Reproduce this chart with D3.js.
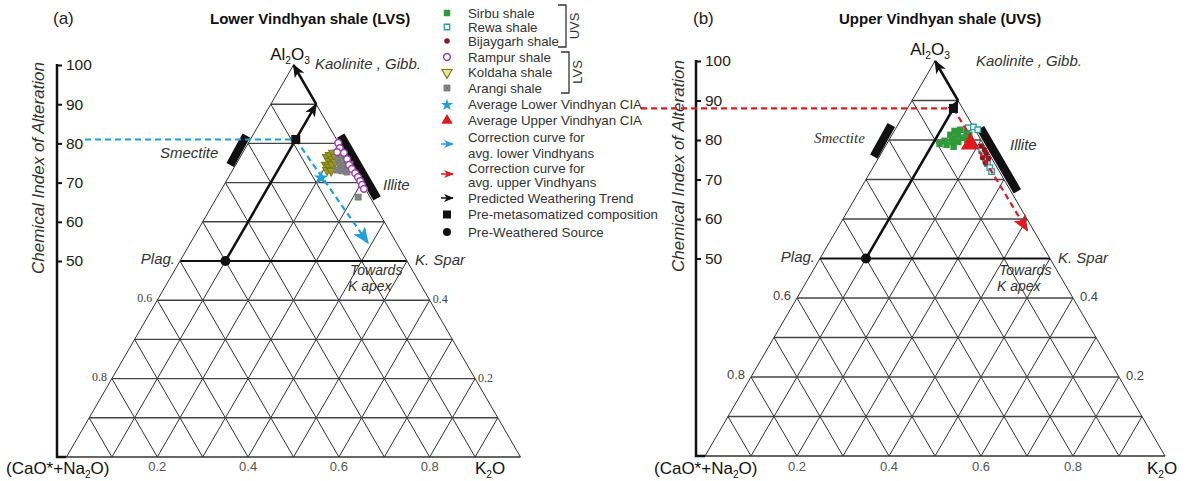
<!DOCTYPE html>
<html>
<head>
<meta charset="utf-8">
<script src="https://cdn.jsdelivr.net/npm/d3@7"></script>
<style>
  body { margin: 0; background: #fff; }
  svg { font-family: "Liberation Sans", Arial, sans-serif; }
</style>
</head>
<body>
<div id="chart"></div>
<script>
// all compositions are molar % given as [Al2O3, K2O]; (CaO*+Na2O) is the rest

// lower vindhyan shales (panel a)
const rampur = [[80.1, 19.8], [78.8, 20.8], [77.6, 22.3], [77.8, 20.7], [76.0, 23.8], [74.5, 25.0],
  [73.5, 26.1], [72.4, 27.4], [71.4, 28.5], [70.4, 29.5], [69.4, 30.4], [68.4, 31.3]];
const koldaha = [[76.5, 19.1], [77.0, 19.5], [77.6, 19.9], [75.5, 20.1], [76.0, 20.5], [76.5, 20.9],
  [74.5, 19.9], [74.0, 20.8], [74.7, 21.1], [75.3, 21.5], [73.2, 20.8], [73.0, 21.8]];
const arangi = [[75.8, 21.9], [76.3, 22.5], [75.5, 23.8], [74.5, 23.0], [74.2, 24.0], [73.7, 25.2],
  [73.2, 23.0], [73.0, 24.2], [72.7, 25.4], [74.7, 25.1], [66.3, 31.1]];
const avgLower = [71.2, 20.5];
const lowerCorrEnd = [54.6, 39.1];
const lowerCIA = 81;

// upper vindhyan shales (panel b)
const sirbu = [[82.3, 13.1], [82.6, 14.2], [82.1, 15.8], [81.3, 12.7], [81.1, 14.4], [80.6, 15.9],
  [79.8, 12.2], [79.0, 11.5], [78.8, 13.1], [79.5, 14.0], [79.5, 15.3], [78.3, 14.9], [81.3, 16.8],
  [80.3, 13.5], [81.8, 13.8], [80.0, 17.0]];
const rewa = [[83.1, 15.7], [83.3, 16.7], [82.6, 18.0], [77.3, 21.5], [76.0, 22.5], [75.0, 23.5],
  [74.0, 24.4], [73.0, 25.4], [72.0, 26.3]];
const bijaygarh = [[78.5, 20.8], [77.5, 22.0], [76.5, 22.9], [75.5, 22.6], [75.3, 24.0], [74.2, 23.9]];
const avgUpper = [79.0, 18.2];
const upperCorrEnd = [57.1, 41.5];
const upperCIA = 88;

// weathering trend: source -> A-K join -> Al2O3 apex
const sourceComp = [50, 10];
const trendTurn = [90, 10];
const trendEnd = [100, 0];

// mineral fields drawn as thick bars
const smectiteA = [[82, -1.4], [74.5, -1.2]];
const smectiteB = [[83.8, -1.4], [75.8, -1.2]];
const illiteA = [[82, 19.4], [66, 35.4]];
const illiteB = [[83, 18.4], [67, 34.4]];

// tick labels
const ciaTicks = [100, 90, 80, 70, 60, 50];
const baseTicks = [20, 40, 60, 80];
const leftEdgeTicks = [[40, "0.6"], [20, "0.8"]];
const rightEdgeTicks = [[40, "0.4"], [20, "0.2"]];

const legendNames = ["Sirbu shale", "Rewa shale", "Bijaygarh shale", "Rampur shale", "Koldaha shale",
  "Arangi shale", "Average Lower Vindhyan CIA", "Average Upper Vindhyan CIA",
  "Correction curve for|avg. lower Vindhyans", "Correction curve for|avg. upper Vindhyans",
  "Predicted Weathering Trend", "Pre-metasomatized composition", "Pre-Weathered Source"];

const width = 1189, height = 481;
const svg = d3.select("#chart").append("svg").attr("width", width).attr("height", height);

const col = {
  grid: "#333", cyan: "#1f9fe0", red: "#e5171e", green: "#2f9a3a", teal: "#2a9fa8",
  darkred: "#8b1b1b", purple: "#9b3dad", olive: "#7a7a10", grey: "#8a8a8a"
};

const defs = svg.append("defs");
function arrowMarker(id, color, size) {
  defs.append("marker").attr("id", id)
    .attr("viewBox", "0 0 12 10").attr("refX", 11).attr("refY", 5)
    .attr("markerWidth", size * 1.2).attr("markerHeight", size)
    .attr("markerUnits", "userSpaceOnUse").attr("orient", "auto")
    .append("path").attr("d", "M0,0 L12,5 L0,10 L3,5 Z").attr("fill", color);
}
arrowMarker("arrBlack", "#111", 11);
arrowMarker("arrCyan", col.cyan, 14);
arrowMarker("arrRed", col.red, 14);
arrowMarker("arrCyanS", col.cyan, 8);
arrowMarker("arrRedS", col.red, 8);
arrowMarker("arrBlackS", "#111", 8);

const sym = (type, size) => d3.symbol().type(type).size(size)();

function txt(g, x, y, s, o = {}) {
  const t = g.append("text").attr("x", x).attr("y", y)
    .attr("font-size", o.size || 15)
    .attr("fill", o.fill || "#222")
    .attr("text-anchor", o.anchor || "start")
    .attr("font-style", o.italic ? "italic" : null)
    .attr("font-weight", o.bold ? "bold" : null);
  if (o.family) t.attr("font-family", o.family);
  return t.text(s);
}

// text with subscripts, e.g. Al_2O_3 ; parts are [string, isSub]
function subText(g, x, y, parts, size, anchor) {
  const t = g.append("text").attr("x", x).attr("y", y).attr("font-size", size)
    .attr("fill", "#111").attr("text-anchor", anchor || "start");
  let down = false;
  parts.forEach(([s, sub]) => {
    const sp = t.append("tspan").text(s);
    if (sub) {
      sp.attr("font-size", size * 0.6).attr("dy", down ? 0 : size * 0.22);
      down = true;
    } else {
      sp.attr("dy", down ? -size * 0.22 : 0);
      down = false;
    }
  });
}

function panel(cfg) {
  const g = svg.append("g");
  const sx = d3.scaleLinear().domain([0, 100]).range([cfg.x0, cfg.x0 + cfg.w]);
  const sy = d3.scaleLinear().domain([0, 100]).range([cfg.yb, cfg.yb - cfg.h]);
  const P = d => [sx(d[1] + d[0] / 2), sy(d[0])];
  const line = d3.line().x(d => P(d)[0]).y(d => P(d)[1]);

  // triangle grid
  const grid = [];
  d3.range(10, 100, 10).forEach(v => {
    grid.push({ pts: [[100 - v, 0], [0, 100 - v]], w: 1 });
    grid.push({ pts: [[100 - v, v], [0, v]], w: 1 });
  });
  d3.range(10, 100, 10).forEach(v => {
    grid.push({ pts: [[v, 0], [v, 100 - v]], w: v === 50 ? 2 : 1.4, c: v === 50 ? "#111" : "#444" });
  });
  grid.push({ pts: [[100, 0], [0, 0]], w: 1 });
  grid.push({ pts: [[100, 0], [0, 100]], w: 1 });
  grid.push({ pts: [[0, 0], [0, 100]], w: 1.4 });
  g.append("g").selectAll("path").data(grid).join("path")
    .attr("d", d => line(d.pts))
    .attr("stroke", d => d.c || col.grid)
    .attr("stroke-width", d => d.w)
    .attr("fill", "none");

  // CIA axis
  const cia = d3.scaleLinear().domain([50, 100]).range([sy(50), sy(100)]);
  g.append("path")
    .attr("d", `M${cfg.axisX},${cia(100) - 1}V${cfg.yb}H${sx(0)}`)
    .attr("stroke", "#111").attr("stroke-width", 2.5).attr("fill", "none");
  const ax = g.append("g").attr("transform", `translate(${cfg.axisX},0)`)
    .call(d3.axisRight(cia).tickValues(ciaTicks).tickSize(5).tickPadding(4).tickSizeOuter(0));
  ax.select(".domain").remove();
  ax.selectAll("line").attr("stroke", "#111").attr("stroke-width", 2);
  ax.selectAll("text").attr("font-size", 15.5).attr("fill", "#222")
    .attr("font-family", "Liberation Sans, Arial, sans-serif");
  txt(g, 0, 0, "Chemical Index of Alteration", { size: 17, italic: true, anchor: "middle", fill: "#333" })
    .attr("transform", `translate(${cfg.axisTitleX},${cfg.axisTitleY}) rotate(-90)`);

  // tick labels along base and edges
  baseTicks.forEach(k => txt(g, sx(k), 471, (k / 100).toFixed(1), { size: 13, anchor: "middle", fill: "#555" }));
  leftEdgeTicks.forEach(([a, s]) => txt(g, P([a, 0])[0] - cfg.edgeGapL, sy(a) + 2, s,
    { size: cfg.edgeSize, anchor: "end", fill: "#444", family: cfg.edgeFamily }));
  rightEdgeTicks.forEach(([a, s]) => txt(g, P([a, 100 - a])[0] + cfg.edgeGapR, sy(a) + 3, s,
    { size: cfg.edgeSize, fill: "#444", family: cfg.edgeFamily }));

  // vertex and field labels
  const L = cfg.labels;
  subText(g, L.al[0], L.al[1], [["Al"], ["2", 1], ["O"], ["3", 1]], 17, "middle");
  subText(g, L.cn, 474, [["(CaO*+Na"], ["2", 1], ["O)"]], 17);
  subText(g, L.k, 474, [["K"], ["2", 1], ["O"]], 17, "middle");
  txt(g, L.kao[0], L.kao[1], "Kaolinite , Gibb.", { italic: true, fill: "#333" });
  txt(g, L.sme[0], L.sme[1], "Smectite", { italic: true, fill: "#333", family: L.smeFamily });
  txt(g, L.ill[0], L.ill[1], "Illite", { italic: true, fill: "#333" });
  txt(g, P([50, 0])[0] - 5, sy(50) + 3, "Plag.", { italic: true, anchor: "end", fill: "#333" });
  txt(g, P([50, 50])[0] + 8, sy(50) + 4, "K. Spar", { italic: true, fill: "#333" });
  txt(g, L.tow[0], L.tow[1], "Towards", { italic: true, size: 14, fill: "#333" });
  txt(g, L.tow[0] - 2, L.tow[1] + 16, "K apex", { italic: true, size: 14, fill: "#333" });
  txt(g, L.letter, 24, cfg.letter, { size: 17 });
  txt(g, L.title, 24, cfg.title, { size: 15, bold: true, fill: "#111" });

  // mineral bars
  g.selectAll(".bar").data([cfg.smectite, cfg.illite]).join("path")
    .attr("d", d => line(d)).attr("stroke", "#111").attr("stroke-width", 8.5).attr("fill", "none");

  // predicted weathering trend
  g.append("path").attr("d", line([sourceComp, trendTurn]))
    .attr("stroke", "#111").attr("stroke-width", 2.5).attr("marker-end", "url(#arrBlack)");
  g.append("path").attr("d", line([trendTurn, trendEnd]))
    .attr("stroke", "#111").attr("stroke-width", 2.5).attr("marker-end", "url(#arrBlack)");

  // CIA read-off line and pre-metasomatized composition
  const pre = [cfg.cia, 10];
  const dashColor = cfg.corrColor;
  g.append("path").attr("d", `M${cfg.ciaStart},${sy(cfg.cia)}H${P(pre)[0]}`)
    .attr("stroke", dashColor).attr("stroke-width", 2.2).attr("stroke-dasharray", "6,4");

  const s = P(sourceComp);
  g.append("circle").attr("cx", s[0]).attr("cy", s[1]).attr("r", 5).attr("fill", "#111");

  cfg.drawData(g, P);

  g.append("path").attr("d", line([pre, cfg.corrEnd]))
    .attr("stroke", dashColor).attr("stroke-width", 2.2).attr("stroke-dasharray", "6,4")
    .attr("fill", "none").attr("marker-end", `url(#${cfg.corrMarker})`);
  const p = P(pre);
  g.append("rect").attr("x", p[0] - 4.5).attr("y", p[1] - 4.5).attr("width", 9).attr("height", 9).attr("fill", "#111");

  cfg.drawAvg(g, P);
}

function points(g, P, data, draw) {
  data.forEach(d => draw(g.append("path").attr("transform", `translate(${P(d)})`)));
}

const mk = {
  sirbu: p => p.attr("d", sym(d3.symbolSquare, 42)).attr("fill", col.green),
  rewa: p => p.attr("d", sym(d3.symbolSquare, 30)).attr("fill", "#fff").attr("stroke", col.teal).attr("stroke-width", 1.3),
  bijaygarh: p => p.attr("d", sym(d3.symbolCircle, 24)).attr("fill", col.darkred),
  rampur: p => p.attr("d", sym(d3.symbolCircle, 36)).attr("fill", "#fff").attr("stroke", col.purple).attr("stroke-width", 1.5),
  koldaha: (p, s) => p.attr("d", sym(d3.symbolTriangle, s || 34)).attr("transform", p.attr("transform") + " rotate(180)")
    .attr("fill", "#9c9c2c").attr("stroke", col.olive).attr("stroke-width", 1.1),
  arangi: p => p.attr("d", sym(d3.symbolSquare, 34) + sym(d3.symbolTimes, 26)).attr("fill", col.grey)
    .attr("stroke", "#777").attr("stroke-width", 1),
  star: (p, s) => p.attr("d", sym(d3.symbolStar, s)).attr("fill", col.cyan),
  tri: (p, s) => p.attr("d", sym(d3.symbolTriangle, s)).attr("fill", col.red)
};

panel({
  x0: 66.5, w: 454, yb: 457, h: 392, axisX: 57, axisTitleX: 44, axisTitleY: 168,
  edgeGapL: 5, edgeGapR: 3, edgeSize: 12, edgeFamily: "Liberation Serif, serif",
  letter: "(a)", title: "Lower Vindhyan shale (LVS)",
  labels: {
    al: [290, 60], cn: 6, k: 490, kao: [315, 69], sme: [160, 158], ill: [383, 190],
    tow: [350, 275], letter: 53, title: 210
  },
  cia: lowerCIA, ciaStart: 85, corrEnd: lowerCorrEnd, corrColor: col.cyan, corrMarker: "arrCyan",
  smectite: smectiteA, illite: illiteA,
  drawData: (g, P) => {
    points(g, P, koldaha, mk.koldaha);
    points(g, P, arangi, mk.arangi);
    points(g, P, rampur, mk.rampur);
  },
  drawAvg: (g, P) => mk.star(g.append("path").attr("transform", `translate(${P(avgLower)})`), 65)
});

panel({
  x0: 705, w: 460, yb: 456, h: 395, axisX: 696, axisTitleX: 684, axisTitleY: 166,
  edgeGapL: 6, edgeGapR: 7, edgeSize: 13, edgeFamily: null,
  letter: "(b)", title: "Upper Vindhyan shale (UVS)",
  labels: {
    al: [930, 55], cn: 654, k: 1162, kao: [976, 66], sme: [814, 143], smeFamily: "Liberation Serif, serif",
    ill: [1010, 150], tow: [999, 275], letter: 693, title: 839
  },
  cia: upperCIA, ciaStart: 641, corrEnd: upperCorrEnd, corrColor: col.red, corrMarker: "arrRed",
  smectite: smectiteB, illite: illiteB,
  drawData: (g, P) => {
    points(g, P, sirbu, mk.sirbu);
    mk.tri(g.append("path").attr("transform", `translate(${P(avgUpper)})`), 160);
    points(g, P, rewa, mk.rewa);
    points(g, P, bijaygarh, mk.bijaygarh);
  },
  drawAvg: () => {}
});

// legend
const lg = svg.append("g");
const legendY = [13, 27, 41, 57, 72.5, 88, 104, 120.5, 137.5, 168.5, 198, 214.5, 232];
const legendGap = [0, 0, 0, 0, 0, 0, 0, 0, 16, 14, 0, 0, 0];
const legendMarkerY = [13, 27, 41, 57, 72.5, 88, 105, 120.5, 144, 174, 198, 214.5, 232];
const lx = 447, tx = 468;
legendNames.forEach((name, i) => {
  name.split("|").forEach((s, j) => txt(lg, tx, legendY[i] + 4.5 + j * legendGap[i], s, { size: 13.3, fill: "#333" }));
  const my = legendMarkerY[i];
  const m = () => lg.append("path").attr("transform", `translate(${lx},${my})`);
  if (i === 0) mk.sirbu(m());
  if (i === 1) mk.rewa(m());
  if (i === 2) mk.bijaygarh(m());
  if (i === 3) mk.rampur(m());
  if (i === 4) mk.koldaha(m(), 45).attr("fill", "#e6e6a0");
  if (i === 5) mk.arangi(m());
  if (i === 6) mk.star(m(), 45);
  if (i === 7) mk.tri(m(), 55);
  if (i >= 8 && i <= 10) {
    const c = ["arrCyanS", "arrRedS", "arrBlackS"][i - 8];
    const sc = [col.cyan, col.red, "#111"][i - 8];
    lg.append("path").attr("d", `M${lx - 6},${my}H${lx + 6}`).attr("stroke", sc).attr("stroke-width", 1.5)
      .attr("marker-end", `url(#${c})`);
  }
  if (i === 11) lg.append("rect").attr("x", lx - 4).attr("y", my - 4).attr("width", 8).attr("height", 8).attr("fill", "#111");
  if (i === 12) lg.append("circle").attr("cx", lx).attr("cy", my).attr("r", 4).attr("fill", "#111");
});

// group brackets
[[558, 5, 47, "UVS", 579, 26], [561, 52, 93, "LVS", 582, 72]].forEach(([x1, y1, y2, s, labX, labY]) => {
  lg.append("path").attr("d", `M${x1},${y1}H${x1 + 8}V${y2}H${x1}`)
    .attr("stroke", "#333").attr("stroke-width", 1.3).attr("fill", "none");
  txt(lg, 0, 0, s, { size: 13, anchor: "middle", fill: "#333" })
    .attr("transform", `translate(${labX},${labY}) rotate(-90)`);
});
</script>
</body>
</html>
